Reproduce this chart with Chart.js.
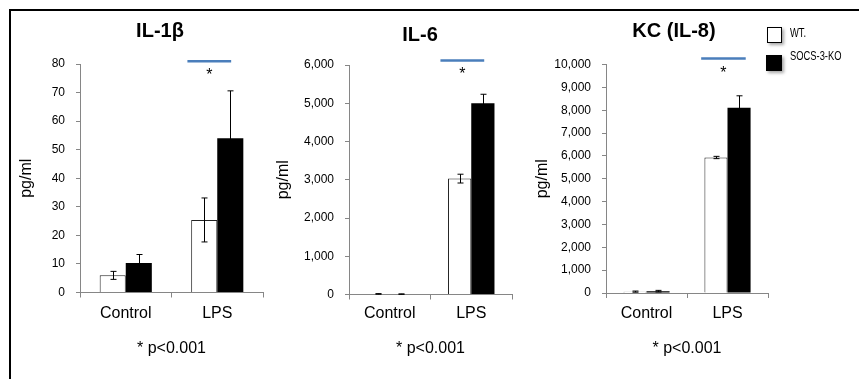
<!DOCTYPE html>
<html>
<head>
<meta charset="utf-8">
<script src="https://cdn.jsdelivr.net/npm/chart.js@4.4.1/dist/chart.umd.min.js"></script>
<style>
  body { margin: 0; background: #fff; }
  #page { position: relative; width: 859px; height: 379px; overflow: hidden; font-family: "Liberation Sans", Arial, sans-serif; }
  #frame { position: absolute; left: 9px; top: 9px; right: -10px; bottom: -10px; border-top: 2px solid #000; border-left: 2px solid #000; }
  canvas { position: absolute; top: 0; }
  .title { position: absolute; width: 200px; text-align: center; font-weight: bold; font-size: 20px; line-height: 20px; color: #000; }
  .lg-box { position: absolute; box-sizing: border-box; box-shadow: 2px 2px 3px rgba(0,0,0,0.35); }
  .lg-text { position: absolute; font-size: 12px; line-height: 12px; color: #000; white-space: nowrap; transform: scaleX(0.78); transform-origin: 0 0; }
</style>
</head>
<body>
<div id="page">
  <div id="frame"></div>
</div>
<script>
// data
const categories = ['Control', 'LPS'];
const seriesNames = ['WT.', 'SOCS-3-KO'];
const seriesFill = ['#ffffff', '#000000'];

const il1bWT = [6.0, 25.4];
const il1bWTErr = [1.4, 7.7];
const il1bKO = [10.3, 54.0];
const il1bKOErr = [3.0, 16.6];
const il1bTicks = [0, 10, 20, 30, 40, 50, 60, 70, 80];

const il6WT = [15, 3030];
const il6WTErr = [8, 115];
const il6KO = [10, 5000];
const il6KOErr = [6, 235];
const il6Ticks = [0, 1000, 2000, 3000, 4000, 5000, 6000];

const kcWT = [60, 5930];
const kcWTErr = [25, 50];
const kcKO = [80, 8110];
const kcKOErr = [35, 520];
const kcTicks = [0, 1000, 2000, 3000, 4000, 5000, 6000, 7000, 8000, 9000, 10000];

const H = 379;
const axisGrey = '#868686';
const FONT = '"Liberation Sans", Arial, sans-serif';

const panels = [
  { title: 'IL-1β', wt: il1bWT, wtErr: il1bWTErr, ko: il1bKO, koErr: il1bKOErr, ticks: il1bTicks,
    box: { left: 10, width: 270, plotLeft: 80, plotRight: 263, plotTop: 64, plotBottom: 292.5, yTitleX: 27, titleX: 160, titleTop: 20 },
    sig: { from: 0.674, to: 1.152, at: 81 } },
  { title: 'IL-6', wt: il6WT, wtErr: il6WTErr, ko: il6KO, koErr: il6KOErr, ticks: il6Ticks,
    box: { left: 270, width: 250, plotLeft: 349, plotRight: 512, plotTop: 65, plotBottom: 294.5, yTitleX: 284, titleX: 420, titleTop: 24 },
    sig: { from: 0.622, to: 1.159, at: 6120 } },
  { title: 'KC (IL-8)', wt: kcWT, wtErr: kcWTErr, ko: kcKO, koErr: kcKOErr, ticks: kcTicks,
    box: { left: 525, width: 255, plotLeft: 606, plotRight: 768, plotTop: 64.5, plotBottom: 293, yTitleX: 543, titleX: 674, titleTop: 20 },
    sig: { from: 0.675, to: 1.225, at: 10260 } }
];

// error bars from each dataset's "errors" list
const errorBars = {
  id: 'errorBars',
  afterDatasetsDraw(chart) {
    const { ctx } = chart;
    const y = chart.scales.y;
    ctx.save();
    ctx.strokeStyle = '#000';
    ctx.lineWidth = 1;
    chart.data.datasets.forEach((ds, i) => {
      chart.getDatasetMeta(i).data.forEach((bar, j) => {
        const v = ds.data[j], e = ds.errors[j];
        const top = y.getPixelForValue(v + e);
        const bot = y.getPixelForValue(v - e);
        const x = Math.round(bar.x) + 0.5;
        ctx.beginPath();
        ctx.moveTo(x, top); ctx.lineTo(x, bot);
        ctx.moveTo(x - 3, top); ctx.lineTo(x + 3, top);
        ctx.moveTo(x - 3, bot); ctx.lineTo(x + 3, bot);
        ctx.stroke();
      });
    });
    ctx.restore();
  }
};

// blue significance bar with asterisk
const sigBar = {
  id: 'sigBar',
  afterDraw(chart, args, opts) {
    const { ctx } = chart;
    const { x, y } = chart.scales;
    const x0 = x.getPixelForValue(opts.from);
    const x1 = x.getPixelForValue(opts.to);
    const yy = y.getPixelForValue(opts.at);
    ctx.save();
    ctx.strokeStyle = '#4a7ebb';
    ctx.lineWidth = 2.5;
    ctx.beginPath();
    ctx.moveTo(x0, yy);
    ctx.lineTo(x1, yy);
    ctx.stroke();
    ctx.fillStyle = '#000';
    ctx.font = '16px ' + FONT;
    ctx.textAlign = 'center';
    ctx.textBaseline = 'alphabetic';
    ctx.fillText('*', (x0 + x1) / 2, yy + 19);
    ctx.restore();
  }
};

const page = document.getElementById('page');

panels.forEach(p => {
  const b = p.box;
  const canvas = document.createElement('canvas');
  canvas.width = b.width;
  canvas.height = H;
  canvas.style.left = b.left + 'px';
  page.appendChild(canvas);

  const t = document.createElement('div');
  t.className = 'title';
  t.textContent = p.title;
  t.style.left = (b.titleX - 100) + 'px';
  t.style.top = b.titleTop + 'px';
  page.appendChild(t);

  const padLeft = b.yTitleX - 13.6 - b.left;
  const xBottom = 362.6;

  new Chart(canvas.getContext('2d'), {
    type: 'bar',
    data: {
      labels: categories,
      datasets: [
        { label: seriesNames[0], data: p.wt, errors: p.wtErr, backgroundColor: seriesFill[0], borderColor: '#222', borderWidth: 1 },
        { label: seriesNames[1], data: p.ko, errors: p.koErr, backgroundColor: seriesFill[1], borderColor: '#000', borderWidth: 0 }
      ]
    },
    options: {
      responsive: false,
      animation: false,
      categoryPercentage: 0.57,
      barPercentage: 1.0,
      layout: { padding: { left: padLeft, right: b.left + b.width - b.plotRight, top: b.plotTop, bottom: H - xBottom } },
      plugins: {
        legend: { display: false },
        tooltip: { enabled: false },
        sigBar: p.sig
      },
      scales: {
        x: {
          grid: { offset: true, drawOnChartArea: false, color: axisGrey, tickLength: 5 },
          border: { color: axisGrey, width: 1 },
          ticks: { color: '#000', font: { family: FONT, size: 16 }, padding: 313.3 - 9.6 - 5 - b.plotBottom },
          title: { display: true, text: '* p<0.001', color: '#000', font: { family: FONT, size: 16 }, padding: { top: 0, bottom: 4 } },
          afterFit: s => { s.height = xBottom - b.plotBottom; }
        },
        y: {
          min: p.ticks[0],
          max: p.ticks[p.ticks.length - 1],
          afterBuildTicks: s => { s.ticks = p.ticks.map(v => ({ value: v })); },
          grid: { drawOnChartArea: false, color: axisGrey, tickLength: 4 },
          border: { color: axisGrey, width: 1 },
          ticks: { color: '#000', font: { family: FONT, size: 12 }, padding: 11, callback: v => v.toLocaleString('en-US') },
          title: { display: true, text: 'pg/ml', color: '#000', font: { family: FONT, size: 16 }, padding: { top: 4, bottom: 4 } },
          afterFit: s => { s.width = b.plotLeft - b.left - padLeft; }
        }
      }
    },
    plugins: [errorBars, sigBar]
  });
});

// legend built from the series
const legendRows = [
  { boxLeft: 767, boxTop: 26.5, boxW: 15, boxH: 16, textTop: 26.7 },
  { boxLeft: 766, boxTop: 55, boxW: 16, boxH: 16, textTop: 50 }
];
seriesNames.forEach((name, i) => {
  const r = legendRows[i];
  const box = document.createElement('div');
  box.className = 'lg-box';
  box.style.left = r.boxLeft + 'px';
  box.style.top = r.boxTop + 'px';
  box.style.width = r.boxW + 'px';
  box.style.height = r.boxH + 'px';
  box.style.background = seriesFill[i];
  box.style.border = '1.5px solid #000';
  page.appendChild(box);
  const txt = document.createElement('div');
  txt.className = 'lg-text';
  txt.textContent = name;
  txt.style.left = '790px';
  txt.style.top = r.textTop + 'px';
  page.appendChild(txt);
});
</script>
</body>
</html>
